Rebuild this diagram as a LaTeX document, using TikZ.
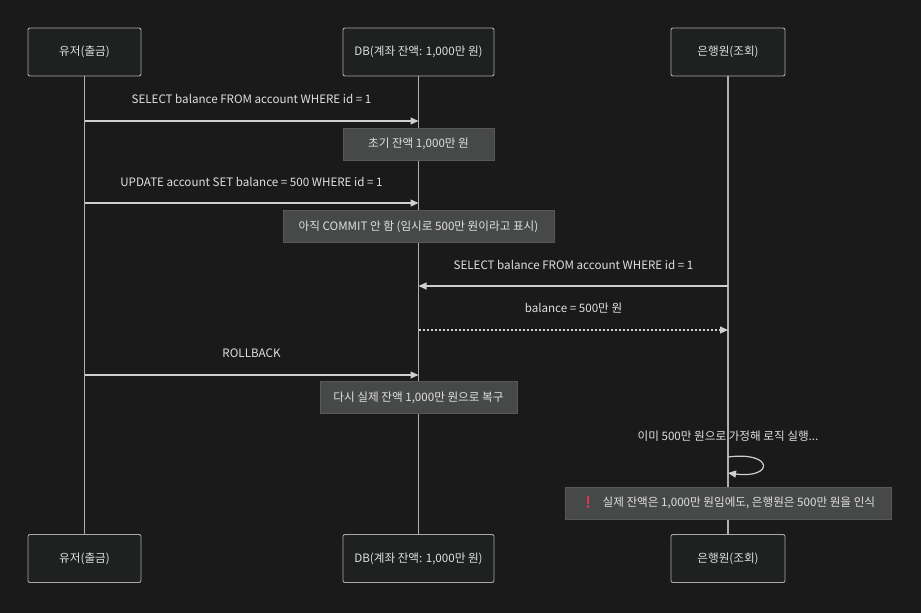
\documentclass[tikz,border=0pt]{standalone}
\usepackage{fontspec}
\setmainfont{Noto Sans CJK KR}
\newfontfamily\emojifont{Noto Emoji}
\usepackage{xcolor}
\usepackage{tikz}
\usetikzlibrary{arrows.meta}
\definecolor{canvas}{HTML}{1A1A1A}
\definecolor{actorfill}{HTML}{1F2121}
\definecolor{actorline}{HTML}{A8A8A8}
\definecolor{notefill}{HTML}{474949}
\definecolor{noteline}{HTML}{585858}
\definecolor{inktext}{HTML}{E0E0E0}
\definecolor{wire}{HTML}{CFCFCF}
\definecolor{alert}{HTML}{E8365D}

\begin{document}
\begin{tikzpicture}[
  x=1pt, y=-1pt,
  font=\fontsize{11.6}{13}\selectfont,
  actor/.style={draw=actorline, fill=actorfill, text=inktext, rounded corners=2pt, line width=0.9pt, minimum height=48pt, inner sep=0pt},
  note/.style={draw=noteline, fill=notefill, text=inktext, line width=0.9pt, minimum height=32pt, inner sep=0pt},
  lbl/.style={text=inktext, inner sep=0pt},
  life/.style={wire!85!black, line width=1.1pt},
  msg/.style={-{Triangle[length=8pt,width=7pt]}, wire, line width=1.2pt},
]
\fill[canvas] (0,0) rectangle (921,613);

% participants, top and bottom
\node[actor, minimum width=113pt] (userT) at (84.5,52) {유저(출금)};
\node[actor, minimum width=151pt] (dbT) at (418.5,52) {DB(계좌 잔액: 1,000만 원)};
\node[actor, minimum width=114pt] (bankT) at (728,52) {은행원(조회)};
\node[actor, minimum width=113pt] (userB) at (84.5,558.5) {유저(출금)};
\node[actor, minimum width=151pt] (dbB) at (418.5,558.5) {DB(계좌 잔액: 1,000만 원)};
\node[actor, minimum width=114pt] (bankB) at (728,558.5) {은행원(조회)};

\draw[life] (userT.south) -- (userB.north);
\draw[life] (dbT.south) -- (dbB.north);
\draw[life] (bankT.south) -- (bankB.north);

% message end points on the lifelines
\coordinate (u1) at (84.5,121);  \coordinate (d1) at (418.5,121);
\coordinate (u2) at (84.5,203);  \coordinate (d2) at (418.5,203);
\coordinate (b3) at (728,286);   \coordinate (d3) at (418.5,286);
\coordinate (d4) at (418.5,330); \coordinate (b4) at (728,330);
\coordinate (u5) at (84.5,375);  \coordinate (d5) at (418.5,375);
\coordinate (b6) at (728,457);   \coordinate (b7) at (728,473);

\node[lbl] (sel1) at (251.5,99) {SELECT balance FROM account WHERE id = 1};
\draw[msg] (u1) -- (d1);
\node[note, minimum width=151pt] (init) at (418.5,144) {초기 잔액 1,000만 원};

\node[lbl] (upd) at (251.5,182) {UPDATE account SET balance = 500 WHERE id = 1};
\draw[msg] (u2) -- (d2);
\node[note, minimum width=271pt] (dirty) at (418.5,226.5) {아직 COMMIT 안 함 (임시로 500만 원이라고 표시)};

\node[lbl] (sel2) at (573.5,265) {SELECT balance FROM account WHERE id = 1};
\draw[msg] (b3) -- (d3);

\node[lbl] (ret) at (573.5,308) {balance = 500만 원};
\draw[msg, dash pattern=on 2pt off 2pt] (d4) -- (b4);

\node[lbl] (rb) at (251.5,353) {ROLLBACK};
\draw[msg] (u5) -- (d5);
\node[note, minimum width=197pt] (restore) at (418.5,397.5) {다시 실제 잔액 1,000만 원으로 복구};

% self call of the teller
\node[lbl] (assume) at (728,436) {이미 500만 원으로 가정해 로직 실행...};
\draw[msg] (b6) .. controls (774,451) and (774,479) .. (b7);
\node[note, minimum width=326pt] (warn) at (728,503) {{\emojifont\color{alert}❗}\hspace{7pt}실제 잔액은 1,000만 원임에도, 은행원은 500만 원을 인식};
\end{tikzpicture}
\end{document}
